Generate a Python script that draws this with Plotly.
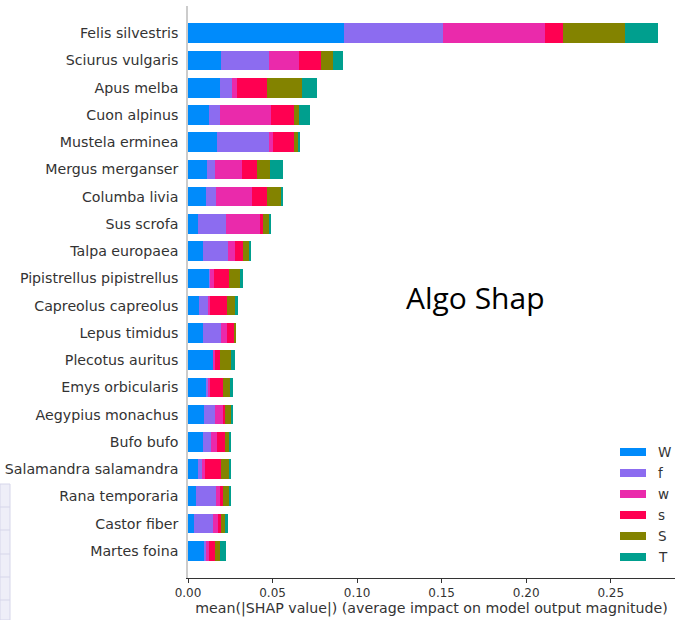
import plotly.graph_objects as go

species = ["Felis silvestris", "Sciurus vulgaris", "Apus melba", "Cuon alpinus",
           "Mustela erminea", "Mergus merganser", "Columba livia", "Sus scrofa",
           "Talpa europaea", "Pipistrellus pipistrellus", "Capreolus capreolus",
           "Lepus timidus", "Plecotus auritus", "Emys orbicularis",
           "Aegypius monachus", "Bufo bufo", "Salamandra salamandra",
           "Rana temporaria", "Castor fiber", "Martes foina"]

class_names = ["W", "f", "w", "s", "S", "T"]
class_colors = ["#008bfb", "#8c6cf0", "#ea2aab", "#ff0051", "#838300", "#009f8e"]

val_W = [0.0922, 0.0197, 0.0189, 0.0124, 0.0169, 0.0110, 0.0104, 0.0059, 0.0087, 0.0126,
         0.0067, 0.0087, 0.0148, 0.0106, 0.0093, 0.0087, 0.0059, 0.0045, 0.0033, 0.0100]
val_f = [0.0587, 0.0282, 0.0073, 0.0065, 0.0309, 0.0047, 0.0059, 0.0164, 0.0150, 0.0006,
         0.0055, 0.0108, 0.0004, 0.0014, 0.0065, 0.0051, 0.0026, 0.0118, 0.0116, 0.0006]
val_w = [0.0603, 0.0175, 0.0026, 0.0301, 0.0026, 0.0164, 0.0217, 0.0201, 0.0039, 0.0022,
         0.0010, 0.0033, 0.0006, 0.0012, 0.0051, 0.0032, 0.0014, 0.0026, 0.0031, 0.0016]
val_s = [0.0104, 0.0132, 0.0177, 0.0138, 0.0124, 0.0085, 0.0085, 0.0022, 0.0051, 0.0087,
         0.0097, 0.0047, 0.0030, 0.0077, 0.0012, 0.0047, 0.0098, 0.0016, 0.0014, 0.0035]
val_S = [0.0366, 0.0071, 0.0209, 0.0030, 0.0026, 0.0077, 0.0087, 0.0037, 0.0039, 0.0065,
         0.0049, 0.0004, 0.0067, 0.0037, 0.0035, 0.0030, 0.0049, 0.0041, 0.0024, 0.0033]
val_T = [0.0197, 0.0059, 0.0091, 0.0061, 0.0006, 0.0079, 0.0004, 0.0008, 0.0006, 0.0018,
         0.0018, 0.0000, 0.0024, 0.0020, 0.0010, 0.0010, 0.0004, 0.0004, 0.0018, 0.0032]

series = [val_W, val_f, val_w, val_s, val_S, val_T]

x_ticks = [0.0, 0.05, 0.10, 0.15, 0.20, 0.25]
x_tick_labels = ["0.00", "0.05", "0.10", "0.15", "0.20", "0.25"]

fig = go.Figure()
for name, color, vals in zip(class_names, class_colors, series):
    fig.add_trace(go.Bar(
        y=species, x=vals, name=name, orientation="h",
        marker=dict(color=color, line=dict(width=0)),
        width=0.72, showlegend=False,
    ))

axis_color = "#333333"
PL, PT, PB, W, H = 188, 6, 578, 679, 620
PW, PH = W - 4 - PL, PB - PT

def px_x(x):
    return (x - PL) / PW

def px_y(y):
    return (PB - y) / PH

fig.update_layout(
    barmode="stack",
    width=W, height=H,
    margin=dict(l=PL, r=4, t=PT, b=H - PB),
    paper_bgcolor="white", plot_bgcolor="white",
    font=dict(family="DejaVu Sans", color=axis_color),
    xaxis=dict(
        range=[0, 0.288], tickvals=x_ticks, ticktext=x_tick_labels,
        showgrid=False, zeroline=False, showline=True, linecolor="#333333",
        linewidth=1, ticks="outside", ticklen=4, tickcolor="#333333",
        tickfont=dict(size=12, color=axis_color),
        title=dict(text="mean(|SHAP value|) (average impact on model output magnitude)",
                   font=dict(size=14.2, color=axis_color), standoff=2),
    ),
    yaxis=dict(
        categoryorder="array", categoryarray=species[::-1],
        range=[-1, len(species)], showgrid=False, zeroline=False,
        showline=True, linecolor="#cccccc", linewidth=1.5,
        ticks="", ticklabelstandoff=5,
        tickfont=dict(size=14.2, color=axis_color),
    ),
)

# custom legend (swatches + labels)
for i, (name, color) in enumerate(zip(class_names, class_colors)):
    yc = 452 + i * 21
    fig.add_shape(type="rect", xref="paper", yref="paper",
                  x0=px_x(620), x1=px_x(646), y0=px_y(yc + 4), y1=px_y(yc - 4),
                  fillcolor=color, line=dict(width=0), layer="above")
    fig.add_annotation(xref="paper", yref="paper", x=px_x(656), y=px_y(yc),
                       text=name, showarrow=False, xanchor="left", yanchor="middle",
                       font=dict(size=13.5, color=axis_color, family="DejaVu Sans"))

fig.add_annotation(xref="paper", yref="paper", x=px_x(475), y=px_y(297),
                   text="Algo Shap", showarrow=False, xanchor="center", yanchor="middle",
                   font=dict(size=30, color="black", family="Open Sans"))

# faint screenshot artifact at lower-left edge
fig.add_shape(type="rect", xref="paper", yref="paper",
              x0=px_x(0), x1=px_x(10), y0=px_y(H), y1=px_y(484),
              fillcolor="#eeeef8", line=dict(color="#d6d6ea", width=1), layer="below")
for yy in [507, 530, 554, 577, 600]:
    fig.add_shape(type="line", xref="paper", yref="paper",
                  x0=px_x(0), x1=px_x(10), y0=px_y(yy), y1=px_y(yy),
                  line=dict(color="#d6d6ea", width=1), layer="below")

fig.write_html("out.html")
